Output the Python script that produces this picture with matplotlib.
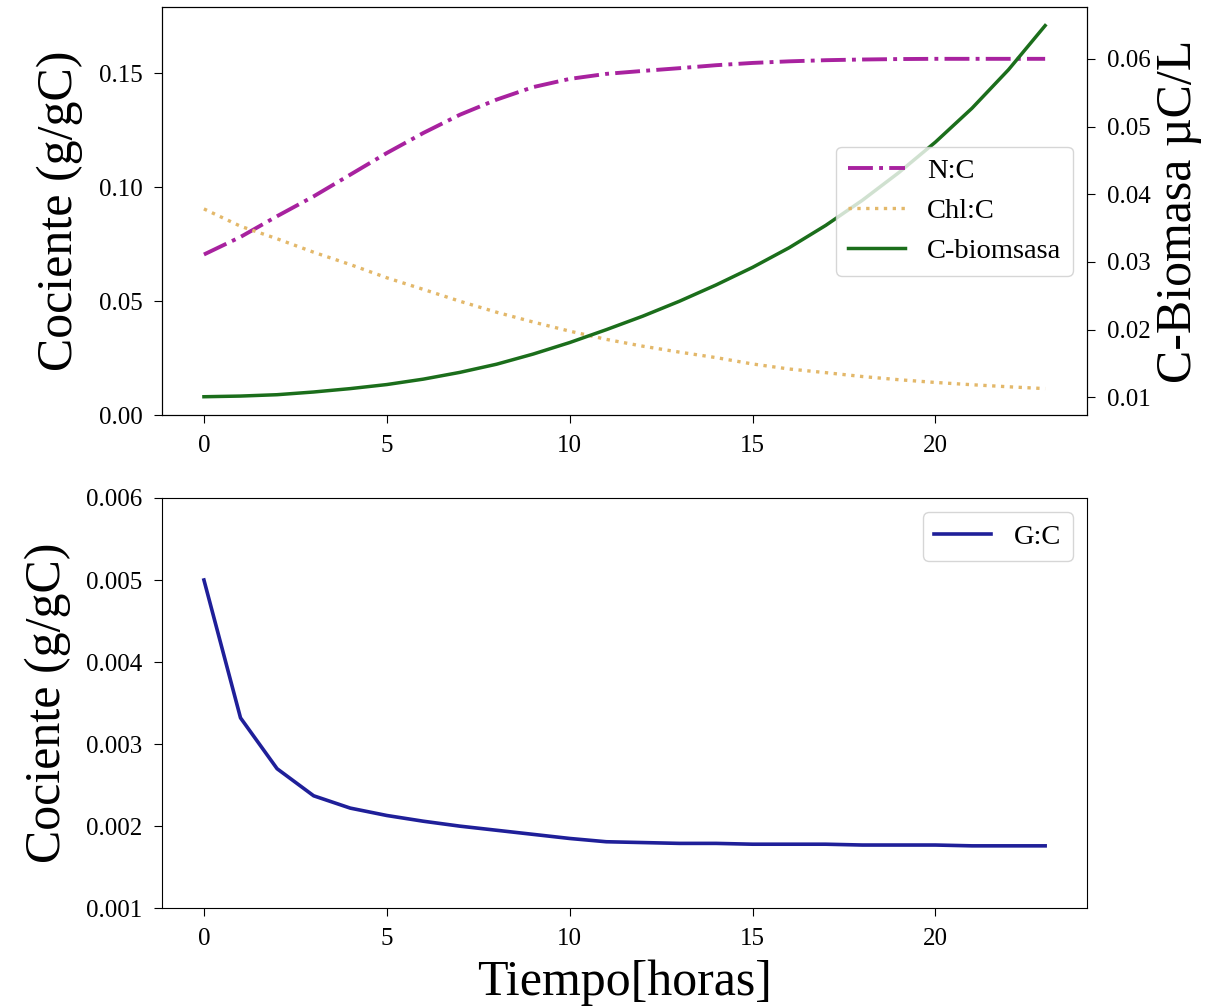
import numpy as np
import matplotlib.pyplot as plt

plt.rcParams['font.family'] = ['Liberation Serif', 'DejaVu Serif']
plt.rcParams['xtick.major.size'] = 6
plt.rcParams['ytick.major.size'] = 6
plt.rcParams['xtick.major.pad'] = 8
plt.rcParams['ytick.major.pad'] = 8

# hourly model output
t = np.arange(24)

nc = [0.0705, 0.0782, 0.0873, 0.0960, 0.1055, 0.1150, 0.1238, 0.1318,
      0.1384, 0.1439, 0.1475, 0.1497, 0.1510, 0.1522, 0.1535, 0.1545,
      0.1552, 0.1557, 0.1560, 0.1562, 0.1563, 0.1563, 0.1563, 0.1563]

chlc = [0.0905, 0.0829, 0.0774, 0.0715, 0.0661, 0.0603, 0.0552, 0.0500,
        0.0452, 0.0409, 0.0369, 0.0333, 0.0303, 0.0277, 0.0253, 0.0225,
        0.0203, 0.0187, 0.0170, 0.0156, 0.0144, 0.0134, 0.0125, 0.0117]

cbio = [0.0101, 0.0102, 0.0104, 0.0108, 0.0113, 0.0119, 0.0127, 0.0137,
        0.0149, 0.0164, 0.0181, 0.0200, 0.0220, 0.0242, 0.0266, 0.0292,
        0.0321, 0.0354, 0.0391, 0.0432, 0.0477, 0.0527, 0.0584, 0.0649]

gc = [0.00500, 0.00332, 0.00270, 0.00237, 0.00222, 0.00213, 0.00206, 0.00200,
      0.00195, 0.00190, 0.00185, 0.00181, 0.00180, 0.00179, 0.00179, 0.00178,
      0.00178, 0.00178, 0.00177, 0.00177, 0.00177, 0.00176, 0.00176, 0.00176]

fig = plt.figure(figsize=(12.08, 10.08), dpi=100)
ax1 = fig.add_axes([0.134, 0.588, 0.766, 0.405])
ax3 = fig.add_axes([0.134, 0.099, 0.766, 0.407])

l1, = ax1.plot(t, nc, '-.', color='#a8229f', lw=2.8, label='N:C')
l2, = ax1.plot(t, chlc, ':', color='#e3b86a', lw=2.4, label='Chl:C')
ax1.set_ylim(0, 0.179)
ax1.set_yticks([0.00, 0.05, 0.10, 0.15])
ax1.set_ylabel('Cociente (g/gC)', fontsize=36, labelpad=11)
ax1.tick_params(labelsize=18)

ax2 = ax1.twinx()
l3, = ax2.plot(t, cbio, '-', color='#1b6e1b', lw=2.5, label='C-biomsasa')
ax2.set_ylabel('C-Biomasa µC/L', fontsize=36)
ax2.tick_params(labelsize=18)
ax2.legend(handles=[l1, l2, l3], loc='center right', fontsize=20.5)

ax3.plot(t, gc, '-', color='#1f1f99', lw=2.6, label='G:C')
ax3.set_ylim(0.001, 0.006)
ax3.set_ylabel('Cociente (g/gC)', fontsize=36, labelpad=11)
ax3.set_xlabel('Tiempo[horas]', fontsize=36, labelpad=7)
ax3.tick_params(labelsize=18)
ax3.legend(loc='upper right', fontsize=20.5)

plt.savefig('out.png', dpi=100)
